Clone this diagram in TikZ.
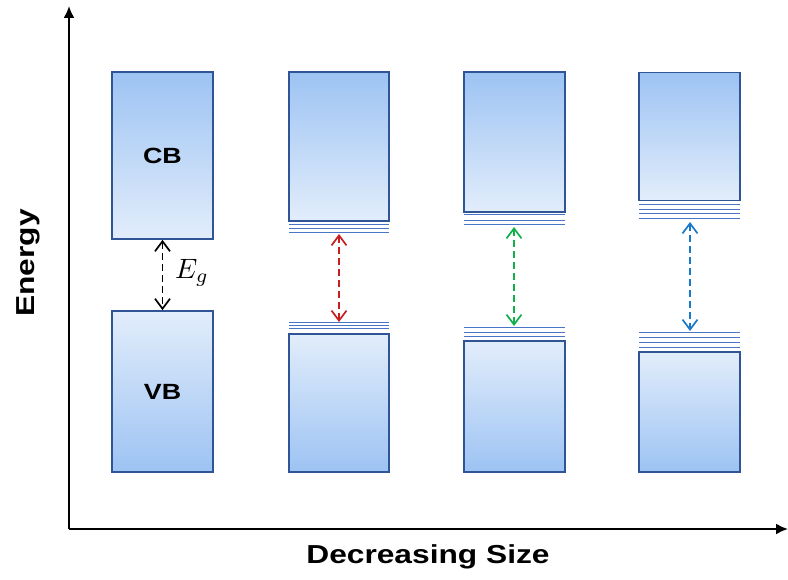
\documentclass[tikz,border=0pt]{standalone}
\usepackage{fontspec}
\setmainfont{Liberation Sans}
\newfontfamily\lblfont[FakeStretch=1.22]{Liberation Sans}
\usetikzlibrary{arrows.meta}
\definecolor{bandedge}{HTML}{2F5597}
\definecolor{banddark}{HTML}{9DC3F3}
\definecolor{bandlight}{HTML}{E2EDFB}
\definecolor{levelc}{HTML}{4A75C6}
\definecolor{redarr}{HTML}{C81E1E}
\definecolor{greenarr}{HTML}{12B04A}
\definecolor{bluearr}{HTML}{1A78C8}
\tikzset{
  cbbox/.style={draw=bandedge, line width=1.8pt, top color=banddark, bottom color=bandlight, inner sep=0pt, font=\lblfont\bfseries\fontsize{22}{24}\selectfont},
  vbbox/.style={draw=bandedge, line width=1.8pt, top color=bandlight, bottom color=banddark, inner sep=0pt, font=\lblfont\bfseries\fontsize{22}{24}\selectfont},
  level/.style={draw=levelc, line width=1pt},
  gaparrow/.style={line width=1.7pt, dash pattern=on 7pt off 4pt, {Straight Barb[length=10pt,width=15pt,line width=1.7pt]}-{Straight Barb[length=10pt,width=15pt,line width=1.7pt]}},
  axis/.style={line width=2pt, -{Latex[length=12pt,width=11pt]}},
  axlabel/.style={font=\lblfont\bfseries\fontsize{26}{28}\selectfont}
}
\begin{document}
\begin{tikzpicture}[x=1pt,y=-1pt]
\useasboundingbox (0,0) rectangle (788,580);
% axes
\coordinate (origin) at (69,529);
\coordinate (ytop) at (69,6);
\coordinate (xend) at (788,529);
\draw[axis] (origin) -- (ytop);
\draw[axis] (origin) -- (xend);
\node[axlabel, rotate=90] (ylab) at (28,263) {Energy};
\node[axlabel] (xlab) at (428,557) {Decreasing Size};

% column 1
\node[cbbox, minimum width=101pt, minimum height=167pt] (cb1) at (162.5,155.5) {CB};
\node[vbbox, minimum width=101pt, minimum height=161pt] (vb1) at (162.5,391.5) {VB};
\draw[gaparrow, black] (cb1.south) -- (vb1.north);
\node (eg) at (192,273) {\scalebox{2.8}{$E_g$}};

% column 2
\node[cbbox, minimum width=100pt, minimum height=149pt] (cb2) at (339,146.5) {};
\node[vbbox, minimum width=100pt, minimum height=138pt] (vb2) at (339,403) {};
\foreach \y in {225,229,233} \draw[level] (289,\y) -- (389,\y);
\foreach \y in {322.5,325.5,328.5} \draw[level] (289,\y) -- (389,\y);
\coordinate (c2top) at (339,234);
\coordinate (c2bot) at (339,322);
\draw[gaparrow, redarr] (c2top) -- (c2bot);

% column 3
\node[cbbox, minimum width=101pt, minimum height=140pt] (cb3) at (514.5,142) {};
\node[vbbox, minimum width=101pt, minimum height=131pt] (vb3) at (514.5,406.5) {};
\foreach \y in {215,220.5,225} \draw[level] (464,\y) -- (565,\y);
\foreach \y in {328,333,337} \draw[level] (464,\y) -- (565,\y);
\coordinate (c3top) at (514,227);
\coordinate (c3bot) at (514,326);
\draw[gaparrow, greenarr] (c3top) -- (c3bot);

% column 4
\node[cbbox, minimum width=101pt, minimum height=128pt] (cb4) at (689.5,136.5) {};
\node[vbbox, minimum width=101pt, minimum height=120pt] (vb4) at (689.5,412) {};
\foreach \y in {204.5,209.5,214,219} \draw[level] (639,\y) -- (740,\y);
\foreach \y in {333,338,343,348} \draw[level] (639,\y) -- (740,\y);
\coordinate (c4top) at (690,222);
\coordinate (c4bot) at (690,331);
\draw[gaparrow, bluearr] (c4top) -- (c4bot);
\end{tikzpicture}
\end{document}
